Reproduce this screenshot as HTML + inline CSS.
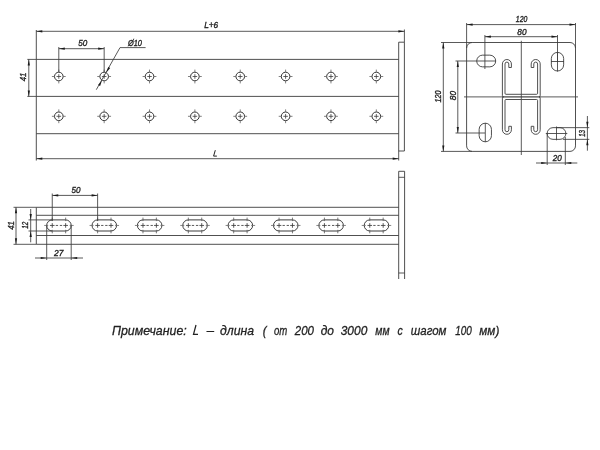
<!DOCTYPE html>
<html><head><meta charset="utf-8"><title>Drawing</title>
<style>html,body{margin:0;padding:0;background:#fff;}svg{display:block;position:absolute;left:0;top:0;}text{font-family:"Liberation Sans",sans-serif;-webkit-font-smoothing:antialiased;}svg{will-change:transform;}</style></head>
<body><svg width="600" height="450" viewBox="0 0 600 450">
<rect width="600" height="450" fill="#fff"/>
<line x1="36.30" y1="59.40" x2="398.70" y2="59.40" stroke="#3c3c3c" stroke-width="0.9" />
<line x1="36.30" y1="96.40" x2="398.70" y2="96.40" stroke="#3c3c3c" stroke-width="0.9" />
<line x1="36.30" y1="133.70" x2="398.70" y2="133.70" stroke="#3c3c3c" stroke-width="0.9" />
<line x1="36.30" y1="30.00" x2="36.30" y2="160.50" stroke="#3c3c3c" stroke-width="0.9" />
<path d="M398.7,42.2 H404.4 V151 H398.7 Z" stroke="#3c3c3c" stroke-width="0.9" fill="none" />
<line x1="404.40" y1="29.50" x2="404.40" y2="42.20" stroke="#3c3c3c" stroke-width="0.85" />
<line x1="398.70" y1="151.00" x2="398.70" y2="160.50" stroke="#3c3c3c" stroke-width="0.85" />
<line x1="36.30" y1="31.30" x2="404.40" y2="31.30" stroke="#3c3c3c" stroke-width="0.85" />
<polygon points="36.30,31.30 42.30,30.20 42.30,32.40" fill="#1a1a1a"/>
<polygon points="404.40,31.30 398.40,32.40 398.40,30.20" fill="#1a1a1a"/>
<line x1="36.30" y1="158.70" x2="398.70" y2="158.70" stroke="#3c3c3c" stroke-width="0.85" />
<polygon points="36.30,158.70 42.30,157.60 42.30,159.80" fill="#1a1a1a"/>
<polygon points="398.70,158.70 392.70,159.80 392.70,157.60" fill="#1a1a1a"/>
<text x="211.20" y="28.40" font-size="8.8" text-anchor="middle" fill="#222" stroke="#222" stroke-width="0.35" font-style="italic" font-weight="normal" textLength="14" lengthAdjust="spacingAndGlyphs">L+6</text>
<path d="M215.3,150.2 L213.6,156.1 H216.9" stroke="#222" stroke-width="1.0" fill="none" />
<circle cx="58.80" cy="76.5" r="4.3" stroke="#333" stroke-width="1.0" fill="none"/>
<line x1="56.50" y1="76.50" x2="61.10" y2="76.50" stroke="#3c3c3c" stroke-width="0.8" />
<line x1="58.80" y1="74.20" x2="58.80" y2="78.80" stroke="#3c3c3c" stroke-width="0.8" />
<line x1="63.10" y1="76.50" x2="65.70" y2="76.50" stroke="#606060" stroke-width="0.8" />
<line x1="54.50" y1="76.50" x2="51.90" y2="76.50" stroke="#606060" stroke-width="0.8" />
<line x1="58.80" y1="80.80" x2="58.80" y2="83.40" stroke="#606060" stroke-width="0.8" />
<line x1="58.80" y1="72.20" x2="58.80" y2="69.60" stroke="#606060" stroke-width="0.8" />
<circle cx="104.16" cy="76.5" r="4.3" stroke="#333" stroke-width="1.0" fill="none"/>
<line x1="101.86" y1="76.50" x2="106.46" y2="76.50" stroke="#3c3c3c" stroke-width="0.8" />
<line x1="104.16" y1="74.20" x2="104.16" y2="78.80" stroke="#3c3c3c" stroke-width="0.8" />
<line x1="108.46" y1="76.50" x2="111.06" y2="76.50" stroke="#606060" stroke-width="0.8" />
<line x1="99.86" y1="76.50" x2="97.26" y2="76.50" stroke="#606060" stroke-width="0.8" />
<line x1="104.16" y1="80.80" x2="104.16" y2="83.40" stroke="#606060" stroke-width="0.8" />
<line x1="104.16" y1="72.20" x2="104.16" y2="69.60" stroke="#606060" stroke-width="0.8" />
<circle cx="149.52" cy="76.5" r="4.3" stroke="#333" stroke-width="1.0" fill="none"/>
<line x1="147.22" y1="76.50" x2="151.82" y2="76.50" stroke="#3c3c3c" stroke-width="0.8" />
<line x1="149.52" y1="74.20" x2="149.52" y2="78.80" stroke="#3c3c3c" stroke-width="0.8" />
<line x1="153.82" y1="76.50" x2="156.42" y2="76.50" stroke="#606060" stroke-width="0.8" />
<line x1="145.22" y1="76.50" x2="142.62" y2="76.50" stroke="#606060" stroke-width="0.8" />
<line x1="149.52" y1="80.80" x2="149.52" y2="83.40" stroke="#606060" stroke-width="0.8" />
<line x1="149.52" y1="72.20" x2="149.52" y2="69.60" stroke="#606060" stroke-width="0.8" />
<circle cx="194.88" cy="76.5" r="4.3" stroke="#333" stroke-width="1.0" fill="none"/>
<line x1="192.58" y1="76.50" x2="197.18" y2="76.50" stroke="#3c3c3c" stroke-width="0.8" />
<line x1="194.88" y1="74.20" x2="194.88" y2="78.80" stroke="#3c3c3c" stroke-width="0.8" />
<line x1="199.18" y1="76.50" x2="201.78" y2="76.50" stroke="#606060" stroke-width="0.8" />
<line x1="190.58" y1="76.50" x2="187.98" y2="76.50" stroke="#606060" stroke-width="0.8" />
<line x1="194.88" y1="80.80" x2="194.88" y2="83.40" stroke="#606060" stroke-width="0.8" />
<line x1="194.88" y1="72.20" x2="194.88" y2="69.60" stroke="#606060" stroke-width="0.8" />
<circle cx="240.24" cy="76.5" r="4.3" stroke="#333" stroke-width="1.0" fill="none"/>
<line x1="237.94" y1="76.50" x2="242.54" y2="76.50" stroke="#3c3c3c" stroke-width="0.8" />
<line x1="240.24" y1="74.20" x2="240.24" y2="78.80" stroke="#3c3c3c" stroke-width="0.8" />
<line x1="244.54" y1="76.50" x2="247.14" y2="76.50" stroke="#606060" stroke-width="0.8" />
<line x1="235.94" y1="76.50" x2="233.34" y2="76.50" stroke="#606060" stroke-width="0.8" />
<line x1="240.24" y1="80.80" x2="240.24" y2="83.40" stroke="#606060" stroke-width="0.8" />
<line x1="240.24" y1="72.20" x2="240.24" y2="69.60" stroke="#606060" stroke-width="0.8" />
<circle cx="285.60" cy="76.5" r="4.3" stroke="#333" stroke-width="1.0" fill="none"/>
<line x1="283.30" y1="76.50" x2="287.90" y2="76.50" stroke="#3c3c3c" stroke-width="0.8" />
<line x1="285.60" y1="74.20" x2="285.60" y2="78.80" stroke="#3c3c3c" stroke-width="0.8" />
<line x1="289.90" y1="76.50" x2="292.50" y2="76.50" stroke="#606060" stroke-width="0.8" />
<line x1="281.30" y1="76.50" x2="278.70" y2="76.50" stroke="#606060" stroke-width="0.8" />
<line x1="285.60" y1="80.80" x2="285.60" y2="83.40" stroke="#606060" stroke-width="0.8" />
<line x1="285.60" y1="72.20" x2="285.60" y2="69.60" stroke="#606060" stroke-width="0.8" />
<circle cx="330.96" cy="76.5" r="4.3" stroke="#333" stroke-width="1.0" fill="none"/>
<line x1="328.66" y1="76.50" x2="333.26" y2="76.50" stroke="#3c3c3c" stroke-width="0.8" />
<line x1="330.96" y1="74.20" x2="330.96" y2="78.80" stroke="#3c3c3c" stroke-width="0.8" />
<line x1="335.26" y1="76.50" x2="337.86" y2="76.50" stroke="#606060" stroke-width="0.8" />
<line x1="326.66" y1="76.50" x2="324.06" y2="76.50" stroke="#606060" stroke-width="0.8" />
<line x1="330.96" y1="80.80" x2="330.96" y2="83.40" stroke="#606060" stroke-width="0.8" />
<line x1="330.96" y1="72.20" x2="330.96" y2="69.60" stroke="#606060" stroke-width="0.8" />
<circle cx="376.32" cy="76.5" r="4.3" stroke="#333" stroke-width="1.0" fill="none"/>
<line x1="374.02" y1="76.50" x2="378.62" y2="76.50" stroke="#3c3c3c" stroke-width="0.8" />
<line x1="376.32" y1="74.20" x2="376.32" y2="78.80" stroke="#3c3c3c" stroke-width="0.8" />
<line x1="380.62" y1="76.50" x2="383.22" y2="76.50" stroke="#606060" stroke-width="0.8" />
<line x1="372.02" y1="76.50" x2="369.42" y2="76.50" stroke="#606060" stroke-width="0.8" />
<line x1="376.32" y1="80.80" x2="376.32" y2="83.40" stroke="#606060" stroke-width="0.8" />
<line x1="376.32" y1="72.20" x2="376.32" y2="69.60" stroke="#606060" stroke-width="0.8" />
<circle cx="58.80" cy="116.3" r="4.3" stroke="#333" stroke-width="1.0" fill="none"/>
<line x1="56.50" y1="116.30" x2="61.10" y2="116.30" stroke="#3c3c3c" stroke-width="0.8" />
<line x1="58.80" y1="114.00" x2="58.80" y2="118.60" stroke="#3c3c3c" stroke-width="0.8" />
<line x1="63.10" y1="116.30" x2="65.70" y2="116.30" stroke="#606060" stroke-width="0.8" />
<line x1="54.50" y1="116.30" x2="51.90" y2="116.30" stroke="#606060" stroke-width="0.8" />
<line x1="58.80" y1="120.60" x2="58.80" y2="123.20" stroke="#606060" stroke-width="0.8" />
<line x1="58.80" y1="112.00" x2="58.80" y2="109.40" stroke="#606060" stroke-width="0.8" />
<circle cx="104.16" cy="116.3" r="4.3" stroke="#333" stroke-width="1.0" fill="none"/>
<line x1="101.86" y1="116.30" x2="106.46" y2="116.30" stroke="#3c3c3c" stroke-width="0.8" />
<line x1="104.16" y1="114.00" x2="104.16" y2="118.60" stroke="#3c3c3c" stroke-width="0.8" />
<line x1="108.46" y1="116.30" x2="111.06" y2="116.30" stroke="#606060" stroke-width="0.8" />
<line x1="99.86" y1="116.30" x2="97.26" y2="116.30" stroke="#606060" stroke-width="0.8" />
<line x1="104.16" y1="120.60" x2="104.16" y2="123.20" stroke="#606060" stroke-width="0.8" />
<line x1="104.16" y1="112.00" x2="104.16" y2="109.40" stroke="#606060" stroke-width="0.8" />
<circle cx="149.52" cy="116.3" r="4.3" stroke="#333" stroke-width="1.0" fill="none"/>
<line x1="147.22" y1="116.30" x2="151.82" y2="116.30" stroke="#3c3c3c" stroke-width="0.8" />
<line x1="149.52" y1="114.00" x2="149.52" y2="118.60" stroke="#3c3c3c" stroke-width="0.8" />
<line x1="153.82" y1="116.30" x2="156.42" y2="116.30" stroke="#606060" stroke-width="0.8" />
<line x1="145.22" y1="116.30" x2="142.62" y2="116.30" stroke="#606060" stroke-width="0.8" />
<line x1="149.52" y1="120.60" x2="149.52" y2="123.20" stroke="#606060" stroke-width="0.8" />
<line x1="149.52" y1="112.00" x2="149.52" y2="109.40" stroke="#606060" stroke-width="0.8" />
<circle cx="194.88" cy="116.3" r="4.3" stroke="#333" stroke-width="1.0" fill="none"/>
<line x1="192.58" y1="116.30" x2="197.18" y2="116.30" stroke="#3c3c3c" stroke-width="0.8" />
<line x1="194.88" y1="114.00" x2="194.88" y2="118.60" stroke="#3c3c3c" stroke-width="0.8" />
<line x1="199.18" y1="116.30" x2="201.78" y2="116.30" stroke="#606060" stroke-width="0.8" />
<line x1="190.58" y1="116.30" x2="187.98" y2="116.30" stroke="#606060" stroke-width="0.8" />
<line x1="194.88" y1="120.60" x2="194.88" y2="123.20" stroke="#606060" stroke-width="0.8" />
<line x1="194.88" y1="112.00" x2="194.88" y2="109.40" stroke="#606060" stroke-width="0.8" />
<circle cx="240.24" cy="116.3" r="4.3" stroke="#333" stroke-width="1.0" fill="none"/>
<line x1="237.94" y1="116.30" x2="242.54" y2="116.30" stroke="#3c3c3c" stroke-width="0.8" />
<line x1="240.24" y1="114.00" x2="240.24" y2="118.60" stroke="#3c3c3c" stroke-width="0.8" />
<line x1="244.54" y1="116.30" x2="247.14" y2="116.30" stroke="#606060" stroke-width="0.8" />
<line x1="235.94" y1="116.30" x2="233.34" y2="116.30" stroke="#606060" stroke-width="0.8" />
<line x1="240.24" y1="120.60" x2="240.24" y2="123.20" stroke="#606060" stroke-width="0.8" />
<line x1="240.24" y1="112.00" x2="240.24" y2="109.40" stroke="#606060" stroke-width="0.8" />
<circle cx="285.60" cy="116.3" r="4.3" stroke="#333" stroke-width="1.0" fill="none"/>
<line x1="283.30" y1="116.30" x2="287.90" y2="116.30" stroke="#3c3c3c" stroke-width="0.8" />
<line x1="285.60" y1="114.00" x2="285.60" y2="118.60" stroke="#3c3c3c" stroke-width="0.8" />
<line x1="289.90" y1="116.30" x2="292.50" y2="116.30" stroke="#606060" stroke-width="0.8" />
<line x1="281.30" y1="116.30" x2="278.70" y2="116.30" stroke="#606060" stroke-width="0.8" />
<line x1="285.60" y1="120.60" x2="285.60" y2="123.20" stroke="#606060" stroke-width="0.8" />
<line x1="285.60" y1="112.00" x2="285.60" y2="109.40" stroke="#606060" stroke-width="0.8" />
<circle cx="330.96" cy="116.3" r="4.3" stroke="#333" stroke-width="1.0" fill="none"/>
<line x1="328.66" y1="116.30" x2="333.26" y2="116.30" stroke="#3c3c3c" stroke-width="0.8" />
<line x1="330.96" y1="114.00" x2="330.96" y2="118.60" stroke="#3c3c3c" stroke-width="0.8" />
<line x1="335.26" y1="116.30" x2="337.86" y2="116.30" stroke="#606060" stroke-width="0.8" />
<line x1="326.66" y1="116.30" x2="324.06" y2="116.30" stroke="#606060" stroke-width="0.8" />
<line x1="330.96" y1="120.60" x2="330.96" y2="123.20" stroke="#606060" stroke-width="0.8" />
<line x1="330.96" y1="112.00" x2="330.96" y2="109.40" stroke="#606060" stroke-width="0.8" />
<circle cx="376.32" cy="116.3" r="4.3" stroke="#333" stroke-width="1.0" fill="none"/>
<line x1="374.02" y1="116.30" x2="378.62" y2="116.30" stroke="#3c3c3c" stroke-width="0.8" />
<line x1="376.32" y1="114.00" x2="376.32" y2="118.60" stroke="#3c3c3c" stroke-width="0.8" />
<line x1="380.62" y1="116.30" x2="383.22" y2="116.30" stroke="#606060" stroke-width="0.8" />
<line x1="372.02" y1="116.30" x2="369.42" y2="116.30" stroke="#606060" stroke-width="0.8" />
<line x1="376.32" y1="120.60" x2="376.32" y2="123.20" stroke="#606060" stroke-width="0.8" />
<line x1="376.32" y1="112.00" x2="376.32" y2="109.40" stroke="#606060" stroke-width="0.8" />
<line x1="58.80" y1="47.00" x2="58.80" y2="72.00" stroke="#3c3c3c" stroke-width="0.85" />
<line x1="104.16" y1="47.00" x2="104.16" y2="72.00" stroke="#3c3c3c" stroke-width="0.85" />
<line x1="58.80" y1="48.70" x2="104.16" y2="48.70" stroke="#3c3c3c" stroke-width="0.85" />
<polygon points="58.80,48.70 64.80,47.60 64.80,49.80" fill="#1a1a1a"/>
<polygon points="104.16,48.70 98.16,49.80 98.16,47.60" fill="#1a1a1a"/>
<text x="82.70" y="45.80" font-size="8.8" text-anchor="middle" fill="#222" stroke="#222" stroke-width="0.35" font-style="italic" font-weight="normal" textLength="9" lengthAdjust="spacingAndGlyphs">50</text>
<line x1="27.30" y1="59.40" x2="36.30" y2="59.40" stroke="#3c3c3c" stroke-width="0.85" />
<line x1="27.30" y1="96.40" x2="36.30" y2="96.40" stroke="#3c3c3c" stroke-width="0.85" />
<line x1="28.80" y1="59.40" x2="28.80" y2="96.40" stroke="#3c3c3c" stroke-width="0.85" />
<polygon points="28.80,59.40 29.90,65.40 27.70,65.40" fill="#1a1a1a"/>
<polygon points="28.80,96.40 27.70,90.40 29.90,90.40" fill="#1a1a1a"/>
<text x="26.00" y="76.90" font-size="8.8" text-anchor="middle" fill="#222" stroke="#222" stroke-width="0.35" font-style="italic" font-weight="normal" transform="rotate(-90 26.00 76.90)" textLength="8.7" lengthAdjust="spacingAndGlyphs">41</text>
<line x1="96.30" y1="89.70" x2="120.00" y2="47.60" stroke="#3c3c3c" stroke-width="0.85" />
<line x1="120.00" y1="47.60" x2="145.60" y2="47.60" stroke="#3c3c3c" stroke-width="0.85" />
<polygon points="106.27,72.75 108.25,66.98 110.17,68.06" fill="#1a1a1a"/>
<polygon points="102.05,80.25 100.07,86.02 98.15,84.94" fill="#1a1a1a"/>
<text x="135.00" y="46.00" font-size="8.8" text-anchor="middle" fill="#222" stroke="#222" stroke-width="0.35" font-style="italic" font-weight="normal" textLength="14" lengthAdjust="spacingAndGlyphs">Ø10</text>
<line x1="36.30" y1="207.30" x2="398.70" y2="207.30" stroke="#3c3c3c" stroke-width="0.9" />
<line x1="36.30" y1="244.30" x2="398.70" y2="244.30" stroke="#3c3c3c" stroke-width="0.9" />
<line x1="36.30" y1="215.30" x2="398.70" y2="215.30" stroke="#3c3c3c" stroke-width="0.9" />
<line x1="36.30" y1="235.50" x2="398.70" y2="235.50" stroke="#3c3c3c" stroke-width="0.9" />
<line x1="36.30" y1="207.30" x2="36.30" y2="244.30" stroke="#3c3c3c" stroke-width="0.9" />
<line x1="398.70" y1="171.30" x2="398.70" y2="279.00" stroke="#3c3c3c" stroke-width="0.9" />
<line x1="404.60" y1="171.30" x2="404.60" y2="279.00" stroke="#3c3c3c" stroke-width="0.9" />
<line x1="398.70" y1="171.30" x2="404.60" y2="171.30" stroke="#3c3c3c" stroke-width="0.9" />
<line x1="398.70" y1="177.30" x2="404.60" y2="177.30" stroke="#3c3c3c" stroke-width="0.85" />
<line x1="398.70" y1="273.00" x2="404.60" y2="273.00" stroke="#3c3c3c" stroke-width="0.85" />
<path d="M52.25,219.9 H65.65 A5.55,5.55 0 0 1 65.65,231.0 H52.25 A5.55,5.55 0 0 1 52.25,219.9 Z" stroke="#3c3c3c" stroke-width="1.0" fill="none" />
<line x1="52.25" y1="223.15" x2="52.25" y2="227.75" stroke="#3c3c3c" stroke-width="0.85" />
<line x1="49.95" y1="225.45" x2="54.55" y2="225.45" stroke="#3c3c3c" stroke-width="0.85" />
<line x1="52.25" y1="217.60" x2="52.25" y2="221.10" stroke="#555" stroke-width="0.8" />
<line x1="52.25" y1="229.80" x2="52.25" y2="233.30" stroke="#555" stroke-width="0.8" />
<line x1="65.65" y1="223.15" x2="65.65" y2="227.75" stroke="#3c3c3c" stroke-width="0.85" />
<line x1="63.35" y1="225.45" x2="67.95" y2="225.45" stroke="#3c3c3c" stroke-width="0.85" />
<line x1="65.65" y1="217.60" x2="65.65" y2="221.10" stroke="#555" stroke-width="0.8" />
<line x1="65.65" y1="229.80" x2="65.65" y2="233.30" stroke="#555" stroke-width="0.8" />
<line x1="44.20" y1="225.45" x2="48.20" y2="225.45" stroke="#666" stroke-width="0.8" />
<line x1="69.70" y1="225.45" x2="73.70" y2="225.45" stroke="#666" stroke-width="0.8" />
<line x1="55.75" y1="225.45" x2="58.05" y2="225.45" stroke="#3c3c3c" stroke-width="0.85" />
<line x1="59.85" y1="225.45" x2="62.15" y2="225.45" stroke="#3c3c3c" stroke-width="0.85" />
<path d="M97.61,219.9 H111.01 A5.55,5.55 0 0 1 111.01,231.0 H97.61 A5.55,5.55 0 0 1 97.61,219.9 Z" stroke="#3c3c3c" stroke-width="1.0" fill="none" />
<line x1="97.61" y1="223.15" x2="97.61" y2="227.75" stroke="#3c3c3c" stroke-width="0.85" />
<line x1="95.31" y1="225.45" x2="99.91" y2="225.45" stroke="#3c3c3c" stroke-width="0.85" />
<line x1="97.61" y1="217.60" x2="97.61" y2="221.10" stroke="#555" stroke-width="0.8" />
<line x1="97.61" y1="229.80" x2="97.61" y2="233.30" stroke="#555" stroke-width="0.8" />
<line x1="111.01" y1="223.15" x2="111.01" y2="227.75" stroke="#3c3c3c" stroke-width="0.85" />
<line x1="108.71" y1="225.45" x2="113.31" y2="225.45" stroke="#3c3c3c" stroke-width="0.85" />
<line x1="111.01" y1="217.60" x2="111.01" y2="221.10" stroke="#555" stroke-width="0.8" />
<line x1="111.01" y1="229.80" x2="111.01" y2="233.30" stroke="#555" stroke-width="0.8" />
<line x1="89.56" y1="225.45" x2="93.56" y2="225.45" stroke="#666" stroke-width="0.8" />
<line x1="115.06" y1="225.45" x2="119.06" y2="225.45" stroke="#666" stroke-width="0.8" />
<line x1="101.11" y1="225.45" x2="103.41" y2="225.45" stroke="#3c3c3c" stroke-width="0.85" />
<line x1="105.21" y1="225.45" x2="107.51" y2="225.45" stroke="#3c3c3c" stroke-width="0.85" />
<path d="M142.97,219.9 H156.37 A5.55,5.55 0 0 1 156.37,231.0 H142.97 A5.55,5.55 0 0 1 142.97,219.9 Z" stroke="#3c3c3c" stroke-width="1.0" fill="none" />
<line x1="142.97" y1="223.15" x2="142.97" y2="227.75" stroke="#3c3c3c" stroke-width="0.85" />
<line x1="140.67" y1="225.45" x2="145.27" y2="225.45" stroke="#3c3c3c" stroke-width="0.85" />
<line x1="142.97" y1="217.60" x2="142.97" y2="221.10" stroke="#555" stroke-width="0.8" />
<line x1="142.97" y1="229.80" x2="142.97" y2="233.30" stroke="#555" stroke-width="0.8" />
<line x1="156.37" y1="223.15" x2="156.37" y2="227.75" stroke="#3c3c3c" stroke-width="0.85" />
<line x1="154.07" y1="225.45" x2="158.67" y2="225.45" stroke="#3c3c3c" stroke-width="0.85" />
<line x1="156.37" y1="217.60" x2="156.37" y2="221.10" stroke="#555" stroke-width="0.8" />
<line x1="156.37" y1="229.80" x2="156.37" y2="233.30" stroke="#555" stroke-width="0.8" />
<line x1="134.92" y1="225.45" x2="138.92" y2="225.45" stroke="#666" stroke-width="0.8" />
<line x1="160.42" y1="225.45" x2="164.42" y2="225.45" stroke="#666" stroke-width="0.8" />
<line x1="146.47" y1="225.45" x2="148.77" y2="225.45" stroke="#3c3c3c" stroke-width="0.85" />
<line x1="150.57" y1="225.45" x2="152.87" y2="225.45" stroke="#3c3c3c" stroke-width="0.85" />
<path d="M188.33,219.9 H201.73 A5.55,5.55 0 0 1 201.73,231.0 H188.33 A5.55,5.55 0 0 1 188.33,219.9 Z" stroke="#3c3c3c" stroke-width="1.0" fill="none" />
<line x1="188.33" y1="223.15" x2="188.33" y2="227.75" stroke="#3c3c3c" stroke-width="0.85" />
<line x1="186.03" y1="225.45" x2="190.63" y2="225.45" stroke="#3c3c3c" stroke-width="0.85" />
<line x1="188.33" y1="217.60" x2="188.33" y2="221.10" stroke="#555" stroke-width="0.8" />
<line x1="188.33" y1="229.80" x2="188.33" y2="233.30" stroke="#555" stroke-width="0.8" />
<line x1="201.73" y1="223.15" x2="201.73" y2="227.75" stroke="#3c3c3c" stroke-width="0.85" />
<line x1="199.43" y1="225.45" x2="204.03" y2="225.45" stroke="#3c3c3c" stroke-width="0.85" />
<line x1="201.73" y1="217.60" x2="201.73" y2="221.10" stroke="#555" stroke-width="0.8" />
<line x1="201.73" y1="229.80" x2="201.73" y2="233.30" stroke="#555" stroke-width="0.8" />
<line x1="180.28" y1="225.45" x2="184.28" y2="225.45" stroke="#666" stroke-width="0.8" />
<line x1="205.78" y1="225.45" x2="209.78" y2="225.45" stroke="#666" stroke-width="0.8" />
<line x1="191.83" y1="225.45" x2="194.13" y2="225.45" stroke="#3c3c3c" stroke-width="0.85" />
<line x1="195.93" y1="225.45" x2="198.23" y2="225.45" stroke="#3c3c3c" stroke-width="0.85" />
<path d="M233.69,219.9 H247.09 A5.55,5.55 0 0 1 247.09,231.0 H233.69 A5.55,5.55 0 0 1 233.69,219.9 Z" stroke="#3c3c3c" stroke-width="1.0" fill="none" />
<line x1="233.69" y1="223.15" x2="233.69" y2="227.75" stroke="#3c3c3c" stroke-width="0.85" />
<line x1="231.39" y1="225.45" x2="235.99" y2="225.45" stroke="#3c3c3c" stroke-width="0.85" />
<line x1="233.69" y1="217.60" x2="233.69" y2="221.10" stroke="#555" stroke-width="0.8" />
<line x1="233.69" y1="229.80" x2="233.69" y2="233.30" stroke="#555" stroke-width="0.8" />
<line x1="247.09" y1="223.15" x2="247.09" y2="227.75" stroke="#3c3c3c" stroke-width="0.85" />
<line x1="244.79" y1="225.45" x2="249.39" y2="225.45" stroke="#3c3c3c" stroke-width="0.85" />
<line x1="247.09" y1="217.60" x2="247.09" y2="221.10" stroke="#555" stroke-width="0.8" />
<line x1="247.09" y1="229.80" x2="247.09" y2="233.30" stroke="#555" stroke-width="0.8" />
<line x1="225.64" y1="225.45" x2="229.64" y2="225.45" stroke="#666" stroke-width="0.8" />
<line x1="251.14" y1="225.45" x2="255.14" y2="225.45" stroke="#666" stroke-width="0.8" />
<line x1="237.19" y1="225.45" x2="239.49" y2="225.45" stroke="#3c3c3c" stroke-width="0.85" />
<line x1="241.29" y1="225.45" x2="243.59" y2="225.45" stroke="#3c3c3c" stroke-width="0.85" />
<path d="M279.05,219.9 H292.45 A5.55,5.55 0 0 1 292.45,231.0 H279.05 A5.55,5.55 0 0 1 279.05,219.9 Z" stroke="#3c3c3c" stroke-width="1.0" fill="none" />
<line x1="279.05" y1="223.15" x2="279.05" y2="227.75" stroke="#3c3c3c" stroke-width="0.85" />
<line x1="276.75" y1="225.45" x2="281.35" y2="225.45" stroke="#3c3c3c" stroke-width="0.85" />
<line x1="279.05" y1="217.60" x2="279.05" y2="221.10" stroke="#555" stroke-width="0.8" />
<line x1="279.05" y1="229.80" x2="279.05" y2="233.30" stroke="#555" stroke-width="0.8" />
<line x1="292.45" y1="223.15" x2="292.45" y2="227.75" stroke="#3c3c3c" stroke-width="0.85" />
<line x1="290.15" y1="225.45" x2="294.75" y2="225.45" stroke="#3c3c3c" stroke-width="0.85" />
<line x1="292.45" y1="217.60" x2="292.45" y2="221.10" stroke="#555" stroke-width="0.8" />
<line x1="292.45" y1="229.80" x2="292.45" y2="233.30" stroke="#555" stroke-width="0.8" />
<line x1="271.00" y1="225.45" x2="275.00" y2="225.45" stroke="#666" stroke-width="0.8" />
<line x1="296.50" y1="225.45" x2="300.50" y2="225.45" stroke="#666" stroke-width="0.8" />
<line x1="282.55" y1="225.45" x2="284.85" y2="225.45" stroke="#3c3c3c" stroke-width="0.85" />
<line x1="286.65" y1="225.45" x2="288.95" y2="225.45" stroke="#3c3c3c" stroke-width="0.85" />
<path d="M324.41,219.9 H337.81 A5.55,5.55 0 0 1 337.81,231.0 H324.41 A5.55,5.55 0 0 1 324.41,219.9 Z" stroke="#3c3c3c" stroke-width="1.0" fill="none" />
<line x1="324.41" y1="223.15" x2="324.41" y2="227.75" stroke="#3c3c3c" stroke-width="0.85" />
<line x1="322.11" y1="225.45" x2="326.71" y2="225.45" stroke="#3c3c3c" stroke-width="0.85" />
<line x1="324.41" y1="217.60" x2="324.41" y2="221.10" stroke="#555" stroke-width="0.8" />
<line x1="324.41" y1="229.80" x2="324.41" y2="233.30" stroke="#555" stroke-width="0.8" />
<line x1="337.81" y1="223.15" x2="337.81" y2="227.75" stroke="#3c3c3c" stroke-width="0.85" />
<line x1="335.51" y1="225.45" x2="340.11" y2="225.45" stroke="#3c3c3c" stroke-width="0.85" />
<line x1="337.81" y1="217.60" x2="337.81" y2="221.10" stroke="#555" stroke-width="0.8" />
<line x1="337.81" y1="229.80" x2="337.81" y2="233.30" stroke="#555" stroke-width="0.8" />
<line x1="316.36" y1="225.45" x2="320.36" y2="225.45" stroke="#666" stroke-width="0.8" />
<line x1="341.86" y1="225.45" x2="345.86" y2="225.45" stroke="#666" stroke-width="0.8" />
<line x1="327.91" y1="225.45" x2="330.21" y2="225.45" stroke="#3c3c3c" stroke-width="0.85" />
<line x1="332.01" y1="225.45" x2="334.31" y2="225.45" stroke="#3c3c3c" stroke-width="0.85" />
<path d="M369.77,219.9 H383.17 A5.55,5.55 0 0 1 383.17,231.0 H369.77 A5.55,5.55 0 0 1 369.77,219.9 Z" stroke="#3c3c3c" stroke-width="1.0" fill="none" />
<line x1="369.77" y1="223.15" x2="369.77" y2="227.75" stroke="#3c3c3c" stroke-width="0.85" />
<line x1="367.47" y1="225.45" x2="372.07" y2="225.45" stroke="#3c3c3c" stroke-width="0.85" />
<line x1="369.77" y1="217.60" x2="369.77" y2="221.10" stroke="#555" stroke-width="0.8" />
<line x1="369.77" y1="229.80" x2="369.77" y2="233.30" stroke="#555" stroke-width="0.8" />
<line x1="383.17" y1="223.15" x2="383.17" y2="227.75" stroke="#3c3c3c" stroke-width="0.85" />
<line x1="380.87" y1="225.45" x2="385.47" y2="225.45" stroke="#3c3c3c" stroke-width="0.85" />
<line x1="383.17" y1="217.60" x2="383.17" y2="221.10" stroke="#555" stroke-width="0.8" />
<line x1="383.17" y1="229.80" x2="383.17" y2="233.30" stroke="#555" stroke-width="0.8" />
<line x1="361.72" y1="225.45" x2="365.72" y2="225.45" stroke="#666" stroke-width="0.8" />
<line x1="387.22" y1="225.45" x2="391.22" y2="225.45" stroke="#666" stroke-width="0.8" />
<line x1="373.27" y1="225.45" x2="375.57" y2="225.45" stroke="#3c3c3c" stroke-width="0.85" />
<line x1="377.37" y1="225.45" x2="379.67" y2="225.45" stroke="#3c3c3c" stroke-width="0.85" />
<line x1="28.50" y1="219.90" x2="52.25" y2="219.90" stroke="#3c3c3c" stroke-width="0.85" />
<line x1="28.50" y1="231.00" x2="52.25" y2="231.00" stroke="#3c3c3c" stroke-width="0.85" />
<line x1="30.70" y1="209.00" x2="30.70" y2="242.30" stroke="#3c3c3c" stroke-width="0.85" />
<polygon points="30.70,219.90 29.60,213.90 31.80,213.90" fill="#1a1a1a"/>
<polygon points="30.70,231.00 31.80,237.00 29.60,237.00" fill="#1a1a1a"/>
<text x="27.70" y="225.30" font-size="8.8" text-anchor="middle" fill="#222" stroke="#222" stroke-width="0.35" font-style="italic" font-weight="normal" transform="rotate(-90 27.70 225.30)" textLength="7" lengthAdjust="spacingAndGlyphs">12</text>
<line x1="13.50" y1="207.30" x2="36.30" y2="207.30" stroke="#3c3c3c" stroke-width="0.85" />
<line x1="13.50" y1="244.30" x2="36.30" y2="244.30" stroke="#3c3c3c" stroke-width="0.85" />
<line x1="16.00" y1="207.30" x2="16.00" y2="244.30" stroke="#3c3c3c" stroke-width="0.85" />
<polygon points="16.00,207.30 17.10,213.30 14.90,213.30" fill="#1a1a1a"/>
<polygon points="16.00,244.30 14.90,238.30 17.10,238.30" fill="#1a1a1a"/>
<text x="14.00" y="225.50" font-size="8.8" text-anchor="middle" fill="#222" stroke="#222" stroke-width="0.35" font-style="italic" font-weight="normal" transform="rotate(-90 14.00 225.50)" textLength="8.7" lengthAdjust="spacingAndGlyphs">41</text>
<line x1="52.25" y1="193.50" x2="52.25" y2="220.90" stroke="#3c3c3c" stroke-width="0.85" />
<line x1="97.61" y1="193.50" x2="97.61" y2="220.90" stroke="#3c3c3c" stroke-width="0.85" />
<line x1="52.25" y1="195.40" x2="97.61" y2="195.40" stroke="#3c3c3c" stroke-width="0.85" />
<polygon points="52.25,195.40 58.25,194.30 58.25,196.50" fill="#1a1a1a"/>
<polygon points="97.61,195.40 91.61,196.50 91.61,194.30" fill="#1a1a1a"/>
<text x="75.90" y="192.60" font-size="8.8" text-anchor="middle" fill="#222" stroke="#222" stroke-width="0.35" font-style="italic" font-weight="normal" textLength="9" lengthAdjust="spacingAndGlyphs">50</text>
<line x1="46.70" y1="225.45" x2="46.70" y2="260.00" stroke="#3c3c3c" stroke-width="0.85" />
<line x1="71.20" y1="225.45" x2="71.20" y2="260.00" stroke="#3c3c3c" stroke-width="0.85" />
<line x1="35.00" y1="258.00" x2="83.00" y2="258.00" stroke="#3c3c3c" stroke-width="0.85" />
<polygon points="46.70,258.00 40.70,259.10 40.70,256.90" fill="#1a1a1a"/>
<polygon points="71.20,258.00 77.20,256.90 77.20,259.10" fill="#1a1a1a"/>
<text x="58.80" y="256.40" font-size="8.8" text-anchor="middle" fill="#222" stroke="#222" stroke-width="0.35" font-style="italic" font-weight="normal" textLength="9.4" lengthAdjust="spacingAndGlyphs">27</text>
<path d="M472.1,42.5 H570.0 A5.5,5.5 0 0 1 575.5,48.0 V145.9 A5.5,5.5 0 0 1 570.0,151.4 H472.1 A5.5,5.5 0 0 1 466.6,145.9 V48.0 A5.5,5.5 0 0 1 472.1,42.5 Z" stroke="#3c3c3c" stroke-width="0.9" fill="none" />
<line x1="521.30" y1="40.80" x2="521.30" y2="155.00" stroke="#3c3c3c" stroke-width="0.85" />
<line x1="464.00" y1="96.90" x2="578.00" y2="96.90" stroke="#3c3c3c" stroke-width="0.85" />
<line x1="466.60" y1="23.00" x2="466.60" y2="48.00" stroke="#3c3c3c" stroke-width="0.85" />
<line x1="575.50" y1="23.00" x2="575.50" y2="48.00" stroke="#3c3c3c" stroke-width="0.85" />
<line x1="466.60" y1="24.60" x2="575.50" y2="24.60" stroke="#3c3c3c" stroke-width="0.85" />
<polygon points="466.60,24.60 472.60,23.50 472.60,25.70" fill="#1a1a1a"/>
<polygon points="575.50,24.60 569.50,25.70 569.50,23.50" fill="#1a1a1a"/>
<text x="521.60" y="22.30" font-size="8.8" text-anchor="middle" fill="#222" stroke="#222" stroke-width="0.35" font-style="italic" font-weight="normal" textLength="11.5" lengthAdjust="spacingAndGlyphs">120</text>
<line x1="484.90" y1="35.00" x2="484.90" y2="69.00" stroke="#3c3c3c" stroke-width="0.85" />
<line x1="557.50" y1="35.00" x2="557.50" y2="61.50" stroke="#3c3c3c" stroke-width="0.85" />
<line x1="484.90" y1="36.70" x2="557.50" y2="36.70" stroke="#3c3c3c" stroke-width="0.85" />
<polygon points="484.90,36.70 490.90,35.60 490.90,37.80" fill="#1a1a1a"/>
<polygon points="557.50,36.70 551.50,37.80 551.50,35.60" fill="#1a1a1a"/>
<text x="521.90" y="35.20" font-size="8.8" text-anchor="middle" fill="#222" stroke="#222" stroke-width="0.35" font-style="italic" font-weight="normal" textLength="9.2" lengthAdjust="spacingAndGlyphs">80</text>
<line x1="441.00" y1="42.50" x2="472.10" y2="42.50" stroke="#3c3c3c" stroke-width="0.85" />
<line x1="441.00" y1="151.40" x2="472.10" y2="151.40" stroke="#3c3c3c" stroke-width="0.85" />
<line x1="443.30" y1="42.50" x2="443.30" y2="151.40" stroke="#3c3c3c" stroke-width="0.85" />
<polygon points="443.30,42.50 444.40,48.50 442.20,48.50" fill="#1a1a1a"/>
<polygon points="443.30,151.40 442.20,145.40 444.40,145.40" fill="#1a1a1a"/>
<text x="441.30" y="96.60" font-size="8.8" text-anchor="middle" fill="#222" stroke="#222" stroke-width="0.35" font-style="italic" font-weight="normal" transform="rotate(-90 441.30 96.60)" textLength="12" lengthAdjust="spacingAndGlyphs">120</text>
<line x1="455.50" y1="61.00" x2="496.00" y2="61.00" stroke="#3c3c3c" stroke-width="0.85" />
<line x1="455.50" y1="133.00" x2="485.00" y2="133.00" stroke="#3c3c3c" stroke-width="0.85" />
<line x1="457.80" y1="61.00" x2="457.80" y2="133.00" stroke="#3c3c3c" stroke-width="0.85" />
<polygon points="457.80,61.00 458.90,67.00 456.70,67.00" fill="#1a1a1a"/>
<polygon points="457.80,133.00 456.70,127.00 458.90,127.00" fill="#1a1a1a"/>
<text x="455.80" y="95.60" font-size="8.8" text-anchor="middle" fill="#222" stroke="#222" stroke-width="0.35" font-style="italic" font-weight="normal" transform="rotate(-90 455.80 95.60)" textLength="9.2" lengthAdjust="spacingAndGlyphs">80</text>
<path d="M482.55,55.15 H489.85 A5.85,5.85 0 0 1 489.85,66.85 H482.55 A5.85,5.85 0 0 1 482.55,55.15 Z" stroke="#3c3c3c" stroke-width="0.9" fill="none" />
<path d="M551.35,58.55 A6.15,6.15 0 0 1 563.65,58.55 V64.85 A6.15,6.15 0 0 1 551.35,64.85 Z" stroke="#3c3c3c" stroke-width="0.9" fill="none" />
<line x1="551.00" y1="61.50" x2="564.00" y2="61.50" stroke="#3c3c3c" stroke-width="0.85" />
<line x1="557.50" y1="52.00" x2="557.50" y2="71.50" stroke="#3c3c3c" stroke-width="0.85" />
<path d="M479.15,129.35 A6.15,6.15 0 0 1 491.45,129.35 V135.65 A6.15,6.15 0 0 1 479.15,135.65 Z" stroke="#3c3c3c" stroke-width="0.9" fill="none" />
<line x1="485.30" y1="123.00" x2="485.30" y2="142.00" stroke="#3c3c3c" stroke-width="0.85" />
<path d="M553.00,127.65 H560.00 A5.85,5.85 0 0 1 560.00,139.35 H553.00 A5.85,5.85 0 0 1 553.00,127.65 Z" stroke="#3c3c3c" stroke-width="0.9" fill="none" />
<line x1="545.80" y1="133.50" x2="567.30" y2="133.50" stroke="#3c3c3c" stroke-width="0.85" />
<line x1="556.50" y1="126.50" x2="556.50" y2="140.30" stroke="#3c3c3c" stroke-width="0.85" />
<line x1="556.50" y1="127.65" x2="589.30" y2="127.65" stroke="#3c3c3c" stroke-width="0.85" />
<line x1="563.00" y1="139.35" x2="589.30" y2="139.35" stroke="#3c3c3c" stroke-width="0.85" />
<line x1="587.40" y1="116.00" x2="587.40" y2="150.70" stroke="#3c3c3c" stroke-width="0.85" />
<polygon points="587.40,127.65 586.30,121.65 588.50,121.65" fill="#1a1a1a"/>
<polygon points="587.40,139.35 588.50,145.35 586.30,145.35" fill="#1a1a1a"/>
<text x="585.50" y="133.40" font-size="8.8" text-anchor="middle" fill="#222" stroke="#222" stroke-width="0.35" font-style="italic" font-weight="normal" transform="rotate(-90 585.50 133.40)" textLength="6.8" lengthAdjust="spacingAndGlyphs">13</text>
<line x1="547.20" y1="133.50" x2="547.20" y2="165.00" stroke="#3c3c3c" stroke-width="0.85" />
<line x1="565.30" y1="137.00" x2="565.30" y2="165.00" stroke="#3c3c3c" stroke-width="0.85" />
<line x1="536.00" y1="163.00" x2="577.30" y2="163.00" stroke="#3c3c3c" stroke-width="0.85" />
<polygon points="547.20,163.00 541.20,164.10 541.20,161.90" fill="#1a1a1a"/>
<polygon points="565.30,163.00 571.30,161.90 571.30,164.10" fill="#1a1a1a"/>
<text x="557.30" y="161.30" font-size="8.8" text-anchor="middle" fill="#222" stroke="#222" stroke-width="0.35" font-style="italic" font-weight="normal" textLength="9" lengthAdjust="spacingAndGlyphs">20</text>
<path d="M503.60,96.9 Q502.40,96.9 502.40,95.70 V64.00 A4.5,4.5 0 0 1 511.40,64.00 V67.50 H508.80 V64.00 A1.9,1.9 0 0 0 505.00,64.00 V93.30 Q505.00,94.30 506.00,94.30 H521.3" stroke="#3c3c3c" stroke-width="0.9" fill="none" />
<path d="M539.00,96.9 Q540.20,96.9 540.20,95.70 V64.00 A4.5,4.5 0 0 0 531.20,64.00 V67.50 H533.80 V64.00 A1.9,1.9 0 0 1 537.60,64.00 V93.30 Q537.60,94.30 536.60,94.30 H521.3" stroke="#3c3c3c" stroke-width="0.9" fill="none" />
<path d="M503.60,96.9 Q502.40,96.9 502.40,98.10 V129.80 A4.5,4.5 0 0 0 511.40,129.80 V126.30 H508.80 V129.80 A1.9,1.9 0 0 1 505.00,129.80 V100.50 Q505.00,99.50 506.00,99.50 H521.3" stroke="#3c3c3c" stroke-width="0.9" fill="none" />
<path d="M539.00,96.9 Q540.20,96.9 540.20,98.10 V129.80 A4.5,4.5 0 0 1 531.20,129.80 V126.30 H533.80 V129.80 A1.9,1.9 0 0 0 537.60,129.80 V100.50 Q537.60,99.50 536.60,99.50 H521.3" stroke="#3c3c3c" stroke-width="0.9" fill="none" />
<line x1="502.40" y1="96.90" x2="540.20" y2="96.90" stroke="#3c3c3c" stroke-width="0.6" />
<path d="M196.0,325 L193.5,334.3 H198.0" stroke="#222" stroke-width="1.25" fill="none" />
<text x="112.00" y="334.80" font-size="13.6" text-anchor="start" fill="#222" stroke="#222" stroke-width="0.3" font-style="italic" font-weight="normal" textLength="74.7" lengthAdjust="spacingAndGlyphs">Примечание:</text>
<text x="206.70" y="334.80" font-size="13.6" text-anchor="start" fill="#222" stroke="#222" stroke-width="0.3" font-style="italic" font-weight="normal" textLength="7.3" lengthAdjust="spacingAndGlyphs">–</text>
<text x="220.00" y="334.80" font-size="13.6" text-anchor="start" fill="#222" stroke="#222" stroke-width="0.3" font-style="italic" font-weight="normal" textLength="34.0" lengthAdjust="spacingAndGlyphs">длина</text>
<text x="262.80" y="334.80" font-size="13.6" text-anchor="start" fill="#222" stroke="#222" stroke-width="0.3" font-style="italic" font-weight="normal" textLength="3.7" lengthAdjust="spacingAndGlyphs">(</text>
<text x="274.00" y="334.80" font-size="13.6" text-anchor="start" fill="#222" stroke="#222" stroke-width="0.3" font-style="italic" font-weight="normal" textLength="13.3" lengthAdjust="spacingAndGlyphs">от</text>
<text x="294.80" y="334.80" font-size="13.6" text-anchor="start" fill="#222" stroke="#222" stroke-width="0.3" font-style="italic" font-weight="normal" textLength="19.2" lengthAdjust="spacingAndGlyphs">200</text>
<text x="320.70" y="334.80" font-size="13.6" text-anchor="start" fill="#222" stroke="#222" stroke-width="0.3" font-style="italic" font-weight="normal" textLength="13.3" lengthAdjust="spacingAndGlyphs">до</text>
<text x="340.70" y="334.80" font-size="13.6" text-anchor="start" fill="#222" stroke="#222" stroke-width="0.3" font-style="italic" font-weight="normal" textLength="26.6" lengthAdjust="spacingAndGlyphs">3000</text>
<text x="375.30" y="334.80" font-size="13.6" text-anchor="start" fill="#222" stroke="#222" stroke-width="0.3" font-style="italic" font-weight="normal" textLength="14.2" lengthAdjust="spacingAndGlyphs">мм</text>
<text x="397.50" y="334.80" font-size="13.6" text-anchor="start" fill="#222" stroke="#222" stroke-width="0.3" font-style="italic" font-weight="normal" textLength="5.3" lengthAdjust="spacingAndGlyphs">с</text>
<text x="410.80" y="334.80" font-size="13.6" text-anchor="start" fill="#222" stroke="#222" stroke-width="0.3" font-style="italic" font-weight="normal" textLength="35.7" lengthAdjust="spacingAndGlyphs">шагом</text>
<text x="455.30" y="334.80" font-size="13.6" text-anchor="start" fill="#222" stroke="#222" stroke-width="0.3" font-style="italic" font-weight="normal" textLength="16.6" lengthAdjust="spacingAndGlyphs">100</text>
<text x="479.30" y="334.80" font-size="13.6" text-anchor="start" fill="#222" stroke="#222" stroke-width="0.3" font-style="italic" font-weight="normal" textLength="20.0" lengthAdjust="spacingAndGlyphs">мм)</text>
</svg></body></html>
